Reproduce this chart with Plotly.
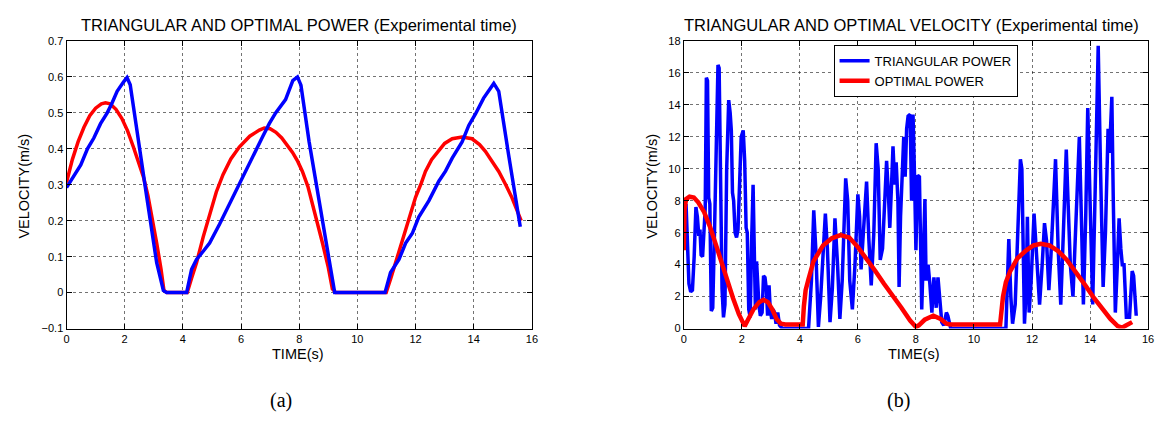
import plotly.graph_objects as go

# ---------------- Data: panel (a) ----------------
a_blue_t = [0, 0.25, 0.49, 0.72, 0.94, 1.17, 1.4, 1.57, 1.74, 1.97, 2.08, 2.19, 2.42, 2.76, 3.1, 3.33, 3.44,
            4.13, 4.3, 4.47, 4.7, 4.92, 5.26, 5.6, 5.94, 6.28, 6.51, 6.75, 6.97, 7.19, 7.53, 7.78, 7.94,
            8.06, 8.34, 8.69, 9.03, 9.22, 10.95, 11.14, 11.43, 11.66, 11.89, 12.11, 12.46, 12.8, 13.03,
            13.26, 13.6, 13.83, 14.06, 14.34, 14.69, 14.86, 15.2, 15.6]
a_blue_v = [0.292, 0.325, 0.355, 0.40, 0.43, 0.47, 0.50, 0.528, 0.56, 0.587, 0.598, 0.578, 0.446, 0.265, 0.083,
            0.006, 0.0, 0.0, 0.065, 0.092, 0.115, 0.138, 0.19, 0.247, 0.30, 0.356, 0.40, 0.435, 0.47, 0.50,
            0.537, 0.59, 0.6, 0.577, 0.42, 0.247, 0.083, 0.0, 0.0, 0.056, 0.092, 0.138, 0.165, 0.21, 0.256,
            0.31, 0.338, 0.374, 0.419, 0.465, 0.497, 0.541, 0.582, 0.56, 0.383, 0.183]

a_red_t = [0, 0.2, 0.4, 0.6, 0.8, 1.0, 1.2, 1.34, 1.5, 1.7, 1.9, 2.1, 2.3, 2.5, 2.65, 2.8, 2.95, 3.1, 3.25,
           3.35, 3.45, 4.15, 4.3, 4.47, 4.7, 4.92, 5.15, 5.38, 5.65, 5.94, 6.3, 6.63, 6.8, 7.0, 7.2, 7.4,
           7.6, 7.77, 7.95, 8.11, 8.3, 8.46, 8.6, 8.8, 9.0, 9.14, 9.26, 10.99, 11.15, 11.31, 11.5, 11.66,
           11.85, 12.0, 12.2, 12.34, 12.55, 12.8, 13.0, 13.26, 13.6, 13.94, 14.2, 14.4, 14.6, 14.86, 15.1,
           15.31, 15.63]
a_red_v = [0.306, 0.37, 0.42, 0.46, 0.492, 0.513, 0.525, 0.528, 0.525, 0.51, 0.485, 0.45, 0.405, 0.355,
           0.32, 0.27, 0.21, 0.138, 0.065, 0.006, 0.0, 0.0, 0.04, 0.083, 0.155, 0.22, 0.28, 0.328, 0.372,
           0.405, 0.435, 0.452, 0.458, 0.456, 0.446, 0.43, 0.41, 0.39, 0.365, 0.337, 0.295, 0.247, 0.205,
           0.138, 0.07, 0.01, 0.0, 0.0, 0.04, 0.083, 0.13, 0.174, 0.22, 0.265, 0.305, 0.337, 0.37, 0.396,
           0.415, 0.428, 0.433, 0.428, 0.412, 0.393, 0.37, 0.337, 0.3, 0.265, 0.20]

# ---------------- Data: panel (b) ----------------
b_blue_t = [0.08, 0.13, 0.18, 0.24, 0.3, 0.36, 0.42, 0.47, 0.52, 0.56, 0.6, 0.65, 0.7, 0.74, 0.78, 0.82,
            0.86, 0.9, 0.95, 1.0, 1.06, 1.12, 1.18, 1.22, 1.27, 1.32, 1.37, 1.42, 1.48, 1.55, 1.6, 1.64,
            1.68, 1.72, 1.77, 1.82, 1.87, 1.93, 1.98, 2.05, 2.1, 2.15, 2.19, 2.24, 2.29, 2.34, 2.39, 2.43,
            2.47, 2.51, 2.55, 2.59, 2.64, 2.7, 2.75, 2.8, 2.85, 2.89, 2.94, 2.98, 3.03, 3.08, 3.13, 3.18,
            3.24, 3.3, 3.4, 4.3, 4.4, 4.48, 4.55, 4.64, 4.72, 4.88, 4.95, 5.04, 5.12, 5.21, 5.3, 5.38,
            5.46, 5.58, 5.65, 5.72, 5.81, 5.9, 6.0, 6.06, 6.11, 6.2, 6.3, 6.38, 6.46, 6.55, 6.63, 6.7,
            6.77, 6.85, 6.92, 6.99, 7.05, 7.1, 7.16, 7.21, 7.27, 7.32, 7.38, 7.42, 7.47, 7.52, 7.58, 7.63,
            7.68, 7.73, 7.8, 7.85, 7.9, 7.95, 8.0, 8.06, 8.12, 8.2, 8.27, 8.31, 8.35, 8.42, 8.48, 8.55,
            8.62, 8.7, 8.76, 8.82, 8.89, 8.96, 9.05, 9.1, 9.2, 11.1, 11.2, 11.27, 11.33, 11.42, 11.5, 11.6,
            11.65, 11.74, 11.8, 11.84, 11.9, 11.97, 12.07, 12.15, 12.26, 12.35, 12.43, 12.5, 12.58, 12.65,
            12.72, 12.81, 12.9, 12.99, 13.08, 13.18, 13.25, 13.32, 13.41, 13.5, 13.63, 13.7, 13.77, 13.85,
            13.92, 14.0, 14.09, 14.18, 14.28, 14.36, 14.45, 14.53, 14.62, 14.67, 14.75, 14.8, 14.87, 14.94,
            15.0, 15.06, 15.11, 15.17, 15.25, 15.36, 15.45, 15.5, 15.59]
b_blue_v = [7.8, 5.5, 2.8, 2.3, 2.4, 4.5, 7.6, 7.0, 5.8, 6.2, 4.6, 4.5, 6.5, 7.5, 15.7, 15.5,
            8.2, 7.8, 1.1, 1.3, 6.0, 13.0, 16.5, 16.3, 9.0, 2.5, 0.7, 1.5, 10.0, 14.3, 13.5, 12.4,
            8.5, 8.0, 6.0, 5.7, 6.2, 10.5, 12.0, 12.4, 10.5, 6.3, 6.0, 1.2, 0.7, 5.5, 9.0, 5.0,
            1.2, 4.2, 2.6, 1.5, 0.8, 1.0, 3.3, 3.2, 2.4, 0.8, 2.7, 1.2, 0.6, 1.2, 1.0, 0.3,
            1.0, 0.2, 0.0, 0.0, 3.0, 7.4, 5.0, 0.1, 2.0, 7.2, 5.0, 0.4, 2.5, 6.9, 4.0, 0.6,
            3.0, 9.4, 8.0, 3.0, 1.2, 4.0, 8.4, 7.0, 3.7, 6.5, 9.2, 5.5, 2.7, 6.0, 11.6, 10.0,
            4.3, 5.0, 7.8, 10.5, 8.5, 6.3, 9.0, 11.4, 9.0, 10.4, 8.0, 2.6, 7.0, 10.0, 12.0, 9.5,
            12.5, 13.3, 13.4, 8.0, 13.4, 9.7, 4.9, 9.6, 9.5, 1.2, 6.0, 8.1, 3.0, 4.0, 2.8, 1.0,
            3.2, 1.3, 3.2, 2.0, 0.4, 0.2, 1.0, 0.8, 0.0, 0.0, 5.6, 2.0, 0.3, 1.5, 5.0, 10.6,
            10.0, 0.3, 2.5, 7.0, 1.0, 3.0, 7.2, 5.0, 1.5, 4.0, 6.6, 5.5, 2.4, 4.5,
            7.4, 10.6, 5.0, 1.5, 6.0, 11.2, 7.5, 4.0, 2.0, 6.0, 12.0, 7.0, 1.5, 7.0,
            13.8, 8.0, 1.5, 9.0, 17.7, 10.0, 2.6, 6.0, 12.5, 11.0, 14.5, 8.0, 1.0, 4.0,
            6.9, 5.0, 4.0, 4.0, 0.7, 0.7, 3.6, 3.3, 0.8]

b_red_t = [0, 0.03, 0.08, 0.2, 0.35, 0.5, 0.7, 0.9, 1.1, 1.3, 1.5, 1.7, 1.9, 2.05, 2.1, 2.2, 2.4, 2.6,
           2.75, 2.9, 3.05, 3.2, 3.35, 3.5, 4.1, 4.14, 4.2, 4.3, 4.47, 4.8, 5.1, 5.4, 5.7, 6.0, 6.3, 6.6,
           6.9, 7.2, 7.5, 7.8, 8.0, 8.1, 8.3, 8.6, 8.85, 9.05, 9.2, 10.9, 10.95, 11.0, 11.1, 11.25, 11.5,
           11.8, 12.05, 12.3, 12.6, 12.9, 13.2, 13.5, 13.8, 14.1, 14.4, 14.7, 14.95, 15.1, 15.25, 15.45]
b_red_v = [4.9, 7.5, 8.1, 8.25, 8.2, 7.9, 7.3, 6.4, 5.3, 4.1, 3.0, 1.9, 0.9, 0.2, 0.15, 0.5, 1.2, 1.65,
           1.8, 1.65, 1.2, 0.6, 0.3, 0.25, 0.25, 1.4, 2.4, 3.1, 4.2, 5.2, 5.65, 5.85, 5.7, 5.1, 4.4, 3.6,
           2.8, 2.1, 1.3, 0.5, 0.1, 0.2, 0.55, 0.8, 0.6, 0.3, 0.25, 0.25, 1.0, 2.0, 2.9, 3.6, 4.4,
           4.9, 5.2, 5.3, 5.2, 4.85, 4.3, 3.6, 2.8, 2.0, 1.3, 0.6, 0.15, 0.05, 0.2, 0.4]

BLUE = "#0000FF"
RED = "#FF0000"
W, H = 1170, 421

fig = go.Figure()
fig.add_trace(go.Scatter(x=a_red_t, y=a_red_v, mode="lines", line=dict(color=RED, width=3.5),
                         xaxis="x", yaxis="y", showlegend=False))
fig.add_trace(go.Scatter(x=a_blue_t, y=a_blue_v, mode="lines", line=dict(color=BLUE, width=3.5),
                         xaxis="x", yaxis="y", showlegend=False))
fig.add_trace(go.Scatter(x=b_blue_t, y=b_blue_v, mode="lines", line=dict(color=BLUE, width=3.5),
                         xaxis="x2", yaxis="y2", name="TRIANGULAR POWER"))
fig.add_trace(go.Scatter(x=b_red_t, y=b_red_v, mode="lines", line=dict(color=RED, width=4.5),
                         xaxis="x2", yaxis="y2", name="OPTIMAL POWER"))

font_main = "Liberation Sans, Arial, sans-serif"

def px(x):
    return x / W

def py(y):
    return 1 - y / H

ax_common = dict(showline=True, linecolor="black", linewidth=1, mirror="all", ticks="inside",
                 ticklen=5, tickcolor="black", showgrid=True, gridcolor="rgba(0,0,0,0.55)",
                 griddash="dot", gridwidth=1, zeroline=False,
                 tickfont=dict(family=font_main, size=11, color="black"))

ydom = [py(332), py(36)]
fig.update_layout(
    width=W, height=H,
    margin=dict(l=0, r=0, t=0, b=0),
    paper_bgcolor="white", plot_bgcolor="white",
    font=dict(family=font_main, color="black"),
    xaxis=dict(domain=[px(64), px(533)], range=[0, 16], dtick=2, tick0=0, anchor="y", **ax_common),
    yaxis=dict(domain=ydom, range=[-0.1, 0.7], dtick=0.1, tick0=-0.1, anchor="x", **ax_common),
    xaxis2=dict(domain=[px(686), px(1154)], range=[0, 16], dtick=2, tick0=0, anchor="y2", **ax_common),
    yaxis2=dict(domain=ydom, range=[0, 18], dtick=2, tick0=0, anchor="x2", **ax_common),
    legend=dict(x=px(837), y=py(40), xanchor="left", yanchor="top", bgcolor="white",
                bordercolor="black", borderwidth=1, font=dict(family=font_main, size=13, color="black"),
                tracegroupgap=0),
    showlegend=True,
)

ann = []
def add_text(text, x, y, size, angle=0, family=font_main):
    ann.append(dict(text=text, x=px(x), y=py(y), xref="paper", yref="paper", showarrow=False,
                    xanchor="center", yanchor="middle", textangle=angle,
                    font=dict(family=family, size=size, color="black")))

add_text("TRIANGULAR AND OPTIMAL POWER (Experimental time)", 298, 20, 16.5)
add_text("TRIANGULAR AND OPTIMAL VELOCITY (Experimental time)", 916, 20, 16.5)
add_text("TIME(s)", 297, 358, 14.5)
add_text("TIME(s)", 918, 358, 14.5)
add_text("VELOCITY(m/s)", 21, 185, 14.5, angle=-90)
add_text("VELOCITY(m/s)", 654, 185, 14.5, angle=-90)
add_text("(a)", 280, 406, 20, family="Liberation Serif, DejaVu Serif, serif")
add_text("(b)", 902, 406, 20, family="Liberation Serif, DejaVu Serif, serif")
fig.update_layout(annotations=ann)

fig.write_html("out.html")
